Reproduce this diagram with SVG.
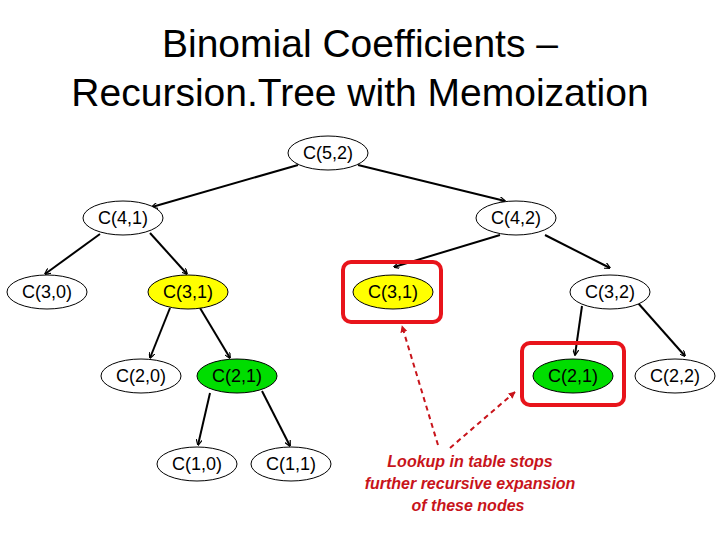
<svg xmlns="http://www.w3.org/2000/svg" width="720" height="540" viewBox="0 0 720 540">
<style>
.n{stroke:#000;stroke-width:1}
.t{font-family:"Liberation Sans",Arial,sans-serif;font-size:18px;text-anchor:middle;dominant-baseline:central}
.e line{stroke:#000;stroke-width:2;marker-end:url(#a)}
.r{fill:none;stroke:#e8141b;stroke-width:4}
.d{stroke:#c8141b;stroke-width:2;stroke-dasharray:5,4;marker-end:url(#b)}
.note{font-family:"Liberation Sans",Arial,sans-serif;font-size:16px;font-style:italic;font-weight:bold;fill:#c8141b;text-anchor:middle}
</style>
<defs>
<marker id="a" viewBox="0 0 10 10" refX="9" refY="5" markerWidth="6" markerHeight="6" orient="auto" markerUnits="userSpaceOnUse" ><path d="M0,0 L10,5 L0,10" fill="none" stroke="#000" stroke-width="2"/></marker>
<marker id="b" viewBox="0 0 10 10" refX="9" refY="5" markerWidth="7" markerHeight="7" orient="auto" markerUnits="userSpaceOnUse"><path d="M0,0 L10,5 L0,10z" fill="#c8141b"/></marker>
</defs>
<rect width="720" height="540" fill="#fff"/>
<text x="360" y="57" font-family="Liberation Sans,Arial,sans-serif" font-size="39" text-anchor="middle">Binomial Coefficients –</text>
<text x="360" y="106" font-family="Liberation Sans,Arial,sans-serif" font-size="39" text-anchor="middle">Recursion.Tree with Memoization</text>
<g id="connectors" class="e">
<line x1="298" y1="165" x2="152" y2="207"/>
<line x1="358" y1="165" x2="505" y2="201"/>
<line x1="100" y1="234" x2="45" y2="274"/>
<line x1="150" y1="233" x2="187" y2="274"/>
<line x1="500" y1="235" x2="394" y2="267"/>
<line x1="545" y1="235" x2="610" y2="268"/>
<line x1="170" y1="308" x2="150" y2="358"/>
<line x1="200" y1="308" x2="230" y2="358"/>
<line x1="582" y1="306" x2="575" y2="355"/>
<line x1="638" y1="303" x2="685" y2="356"/>
<line x1="210" y1="393" x2="198" y2="445"/>
<line x1="262" y1="391" x2="290" y2="446"/>
</g>
<g id="n52"><ellipse class="n" cx="328" cy="153" rx="40" ry="17" fill="#fff"/><text class="t" x="328" y="153">C(5,2)</text></g>
<g id="n41"><ellipse class="n" cx="123" cy="218" rx="40" ry="17" fill="#fff"/><text class="t" x="123" y="218">C(4,1)</text></g>
<g id="n42"><ellipse class="n" cx="516" cy="218" rx="40" ry="17" fill="#fff"/><text class="t" x="516" y="218">C(4,2)</text></g>
<g id="n30"><ellipse class="n" cx="47" cy="292" rx="40" ry="17" fill="#fff"/><text class="t" x="47" y="292">C(3,0)</text></g>
<g id="n31a"><ellipse class="n" cx="188" cy="292" rx="40" ry="17" fill="#ffff00"/><text class="t" x="188" y="292">C(3,1)</text></g>
<g id="n31b"><rect class="r" x="343" y="262" width="98" height="60" rx="8"/><ellipse class="n" cx="393" cy="292" rx="40" ry="17" fill="#ffff00"/><text class="t" x="393" y="292">C(3,1)</text></g>
<g id="n32"><ellipse class="n" cx="610" cy="292" rx="40" ry="17" fill="#fff"/><text class="t" x="610" y="292">C(3,2)</text></g>
<g id="n20"><ellipse class="n" cx="141" cy="376" rx="40" ry="17" fill="#fff"/><text class="t" x="141" y="376">C(2,0)</text></g>
<g id="n21a"><ellipse class="n" cx="237" cy="376" rx="40" ry="17" fill="#00dd00"/><text class="t" x="237" y="376">C(2,1)</text></g>
<g id="n21b"><rect class="r" x="522" y="343" width="102" height="62" rx="8"/><ellipse class="n" cx="573" cy="376" rx="40" ry="17" fill="#00dd00"/><text class="t" x="573" y="376">C(2,1)</text></g>
<g id="n22"><ellipse class="n" cx="675" cy="376" rx="40" ry="17" fill="#fff"/><text class="t" x="675" y="376">C(2,2)</text></g>
<g id="n10"><ellipse class="n" cx="197" cy="464" rx="40" ry="17" fill="#fff"/><text class="t" x="197" y="464">C(1,0)</text></g>
<g id="n11"><ellipse class="n" cx="291" cy="464" rx="40" ry="17" fill="#fff"/><text class="t" x="291" y="464">C(1,1)</text></g>
<g id="note">
<line class="d" x1="438" y1="445" x2="402" y2="326"/>
<line class="d" x1="450" y1="448" x2="515" y2="392"/>
<text class="note" x="470" y="467">Lookup in table stops</text>
<text class="note" x="470" y="489">further recursive expansion</text>
<text class="note" x="468" y="511">of these nodes</text>
</g>
</svg>
